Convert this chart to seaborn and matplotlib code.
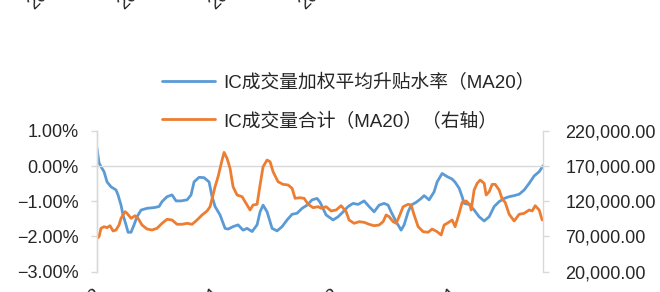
import matplotlib
matplotlib.use('Agg')
import matplotlib.pyplot as plt
import matplotlib.transforms as mtransforms
from matplotlib.ticker import FuncFormatter
import pandas as pd
import seaborn as sns

# IC 成交量加权平均升贴水率 (MA20), in %, by trading-day index
basis_day = [0, 2, 4, 7, 10, 14, 19, 21, 24, 26, 29, 31, 34, 37, 40, 44, 50, 57, 62, 65,
             70, 75, 79, 84, 90, 94, 97, 102, 107, 112, 115, 118, 123, 128, 131, 136, 141, 146, 150, 155,
             160, 163, 166, 170, 175, 180, 185, 190, 195, 200, 205, 210, 215, 220, 223, 229, 236, 241, 246, 251,
             256, 261, 267, 272, 277, 282, 287, 291, 294, 299, 304, 307, 311, 314, 319, 324, 327, 332, 337, 340,
             345, 350, 355, 358, 362, 365, 367, 372, 377, 382, 387, 392, 397, 402, 407, 412, 417, 422, 427, 432,
             437, 442, 446]
basis_pct = [0.50, 0.09, -0.02, -0.16, -0.45, -0.59, -0.68, -0.82, -1.11, -1.39, -1.67, -1.88, -1.88, -1.67, -1.44, -1.25, -1.20, -1.18, -1.15, -1.01,
             -0.87, -0.82, -0.99, -0.99, -0.96, -0.82, -0.45, -0.32, -0.33, -0.45, -0.87, -1.15, -1.39, -1.77, -1.79, -1.72, -1.67, -1.82, -1.77, -1.86,
             -1.67, -1.30, -1.11, -1.30, -1.77, -1.84, -1.72, -1.53, -1.37, -1.34, -1.20, -1.11, -0.96, -0.92, -1.03, -1.39, -1.53, -1.44, -1.30, -1.15,
             -1.06, -1.09, -0.99, -1.15, -1.30, -1.11, -1.06, -1.11, -1.30, -1.58, -1.82, -1.67, -1.30, -1.11, -1.03, -0.92, -0.84, -0.96, -0.73, -0.45,
             -0.21, -0.30, -0.37, -0.46, -0.63, -0.87, -1.06, -1.09, -1.25, -1.44, -1.56, -1.44, -1.15, -1.01, -0.92, -0.87, -0.84, -0.80, -0.68, -0.49,
             -0.28, -0.16, 0.01]

# IC 成交量合计 (MA20), right axis
volume_day = [0, 2, 4, 7, 10, 13, 16, 19, 22, 24, 28, 30, 34, 38, 41, 45, 50, 55, 60, 65,
              70, 75, 80, 85, 90, 95, 100, 105, 110, 113, 118, 121, 125, 127, 130, 133, 136, 140, 145, 150,
              153, 156, 160, 163, 166, 170, 173, 176, 181, 186, 191, 195, 198, 203, 207, 211, 216, 221, 224, 229,
              234, 239, 244, 249, 252, 257, 262, 267, 272, 277, 282, 286, 289, 292, 296, 299, 302, 306, 311, 314,
              317, 321, 326, 331, 335, 340, 344, 347, 350, 355, 358, 362, 365, 369, 373, 374, 377, 380, 383, 387,
              389, 392, 395, 398, 402, 405, 408, 412, 417, 422, 427, 432, 435, 438, 442, 445]
volume_total = [67400, 69700, 81600, 83900, 82500, 85300, 77800, 79200, 86300, 95800, 105200, 102900, 95800, 99500, 95800, 86300, 80600, 79200, 81600, 88700,
                94400, 93400, 87300, 87300, 88700, 87300, 93400, 100500, 106200, 112300, 140600, 154800, 178500, 189400, 180900, 166700, 140600, 128900, 126500, 114700,
                107600, 114700, 115700, 143100, 169000, 178500, 176100, 161900, 147700, 144000, 143100, 138400, 124200, 125000, 124200, 115700, 110900, 112300, 110000, 112300,
                106200, 107600, 113700, 105200, 93400, 88700, 91000, 90100, 87300, 85300, 86300, 91000, 100500, 98100, 91000, 88700, 98100, 112300, 115700, 114700,
                100500, 83900, 76800, 76000, 80600, 76800, 72100, 86300, 88700, 93400, 83900, 102900, 118500, 120400, 114700, 107600, 136000, 145500, 150100, 145500,
                128900, 133500, 144000, 144000, 136000, 123200, 118500, 101500, 92000, 101500, 102900, 107600, 106200, 113700, 107600, 93400]

tick_days = [0, 119, 238, 357]
tick_labels = ['2019-01-02', '2019-07-01', '2020-01-02', '2020-07-01']
top_labels = ['2019-01-02', '2019-07-01', '2020-01-02', '2020-07-01']

label_basis = 'IC成交量加权平均升贴水率（MA20）'
label_volume = 'IC成交量合计（MA20）（右轴）'

basis = pd.DataFrame({'day': basis_day, 'pct': basis_pct})
volume = pd.DataFrame({'day': volume_day, 'vol': volume_total})

sns.set_style('white')
plt.rcParams['font.family'] = ['Liberation Sans', 'Noto Sans CJK SC']
plt.rcParams['font.size'] = 13

grey = '#d9d9d9'
blue = '#5b9bd5'
orange = '#ed7d31'

fig = plt.figure(figsize=(6.6, 2.92), dpi=100)
ax = fig.add_axes([0.147, 0.0695, 0.676, 0.4825])
ax2 = ax.twinx()

sns.lineplot(data=basis, x='day', y='pct', ax=ax, color=blue, linewidth=2.0, label=label_basis, legend=False)
sns.lineplot(data=volume, x='day', y='vol', ax=ax2, color=orange, linewidth=2.0, label=label_volume, legend=False)

ax.set_xlim(0, 446)
ax.set_ylim(-3, 1)
ax.set_yticks([-3, -2, -1, 0, 1])
ax.yaxis.set_major_formatter(FuncFormatter(lambda v, _: f'{v:.2f}%'.replace('-', '\u2212')))
ax2.set_ylim(20000, 220000)
ax2.set_yticks([20000, 70000, 120000, 170000, 220000])
ax2.yaxis.set_major_formatter(FuncFormatter(lambda v, _: f'{v:,.2f}'))

ax.set_xlabel('')
ax.set_ylabel('')
ax2.set_ylabel('')

# x axis sits on the 0% line, labels stay at the bottom
ax.spines['bottom'].set_position(('data', 0))
ax.set_xticks(tick_days)
ax.tick_params(axis='x', length=4, width=1, color=grey, direction='out', labelbottom=False)
ax.tick_params(axis='y', length=4, width=1, color=grey, pad=9, labelsize=13)
ax2.tick_params(axis='y', length=4, width=1, color=grey, pad=12, labelsize=13)

for a in (ax, ax2):
    for s in a.spines.values():
        s.set_color(grey)
        s.set_linewidth(1)
    a.spines['top'].set_visible(False)
ax2.spines['bottom'].set_visible(False)
ax.spines['right'].set_visible(False)

trans = mtransforms.blended_transform_factory(ax.transData, ax.transAxes)
shift = mtransforms.ScaledTranslation(8 / 100, 0, fig.dpi_scale_trans)
for d, lab in zip(tick_days, tick_labels):
    ax.text(d, -0.095, lab, transform=trans + shift, rotation=45, ha='right', va='top',
            fontsize=13, clip_on=False)

# tail ends of the date labels of the chart above
for px, lab in zip([34, 124, 215, 305], top_labels):
    fig.text(px / 660, 1 - 10 / 292, lab, rotation=45, ha='left', va='baseline',
             rotation_mode='anchor', fontsize=13)

h1, l1 = ax.get_legend_handles_labels()
h2, l2 = ax2.get_legend_handles_labels()
fig.legend(h1 + h2, l1 + l2, loc='upper left', bbox_to_anchor=(162 / 660, 1 - 74 / 292),
           frameon=False, fontsize=13.5, handlelength=2.8, handletextpad=0.45,
           labelspacing=1.05, borderpad=0, borderaxespad=0)

fig.savefig('out.png', dpi=100)
